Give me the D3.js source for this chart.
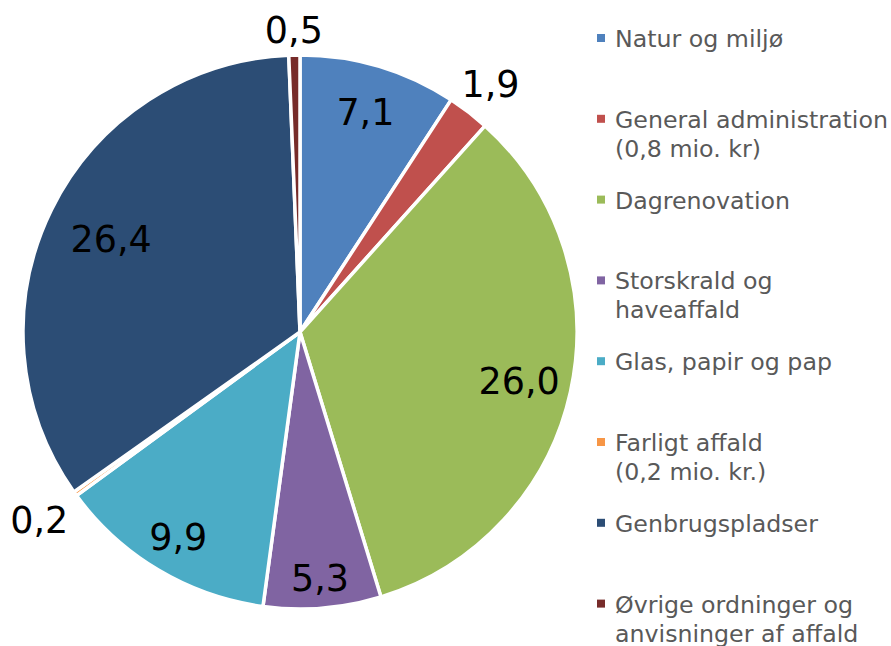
<!DOCTYPE html>
<html lang="da">
<head>
<meta charset="utf-8">
<title>Affald</title>
<script src="https://d3js.org/d3.v7.min.js"></script>
<style>
  body { margin: 0; background: #fff; }
  svg { display: block; font-family: Verdana, "DejaVu Sans", sans-serif; }
</style>
</head>
<body>
<script>
// data
const categories = ["Natur og miljø", "General administration\n(0,8 mio. kr)", "Dagrenovation",
  "Storskrald og\nhaveaffald", "Glas, papir og pap", "Farligt affald\n(0,2 mio. kr.)",
  "Genbrugspladser", "Øvrige ordninger og\nanvisninger af affald"];
const values = [7.1, 1.9, 26.0, 5.3, 9.9, 0.2, 26.4, 0.5];
const colors = ["#4F81BD", "#C0504D", "#9BBB59", "#8064A2", "#4BACC6", "#F79646", "#2C4D75", "#772C2A"];
// label distance from centre, as a share of the radius (best-fit placement)
const labelRadius = [0.83, 1.13, 0.81, 0.89, 0.86, 1.16, 0.76, 1.09];

const w = 891, h = 646;
const cx = 300, cy = 332, r = 277;

const svg = d3.select("body").append("svg")
  .attr("width", w).attr("height", h);

const pie = d3.pie().sort(null).value(d => d.value);
const data = categories.map((c, i) => ({ name: c, value: values[i], color: colors[i], lr: labelRadius[i] }));
const arcs = pie(data);

const arc = d3.arc().innerRadius(0).outerRadius(r);

const g = svg.append("g").attr("transform", "translate(" + cx + "," + cy + ")");

g.selectAll("path")
  .data(arcs)
  .enter()
  .append("path")
  .attr("d", arc)
  .attr("fill", d => d.data.color)
  .attr("stroke", "#fff")
  .attr("stroke-width", 3.5)
  .attr("stroke-linejoin", "round");

g.selectAll("text.lbl")
  .data(arcs)
  .enter()
  .append("text")
  .attr("class", "lbl")
  .attr("transform", d => {
    const lr = r * d.data.lr;
    const p = d3.arc().innerRadius(lr).outerRadius(lr).centroid(d);
    return "translate(" + p[0] + "," + p[1] + ")";
  })
  .attr("text-anchor", "middle")
  .attr("dy", "0.36em")
  .attr("font-size", "36.5px")
  .attr("fill", "#000")
  .text(d => d3.format(".1f")(d.data.value).replace(".", ","));

// legend
const lx = 597, ly0 = 47, step = 80.8;
const leg = svg.append("g");
const items = leg.selectAll("g")
  .data(data)
  .enter()
  .append("g")
  .attr("transform", (d, i) => "translate(" + lx + "," + (ly0 + i * step) + ")");

items.append("rect")
  .attr("x", 0).attr("y", -13)
  .attr("width", 8).attr("height", 8)
  .attr("fill", d => d.color);

items.append("text")
  .attr("x", 18)
  .attr("font-size", "23.7px")
  .attr("fill", "#595959")
  .selectAll("tspan")
  .data(d => d.name.split("\n"))
  .enter()
  .append("tspan")
  .attr("x", 18)
  .attr("y", (d, i) => i * 29)
  .text(d => d);
</script>
</body>
</html>
